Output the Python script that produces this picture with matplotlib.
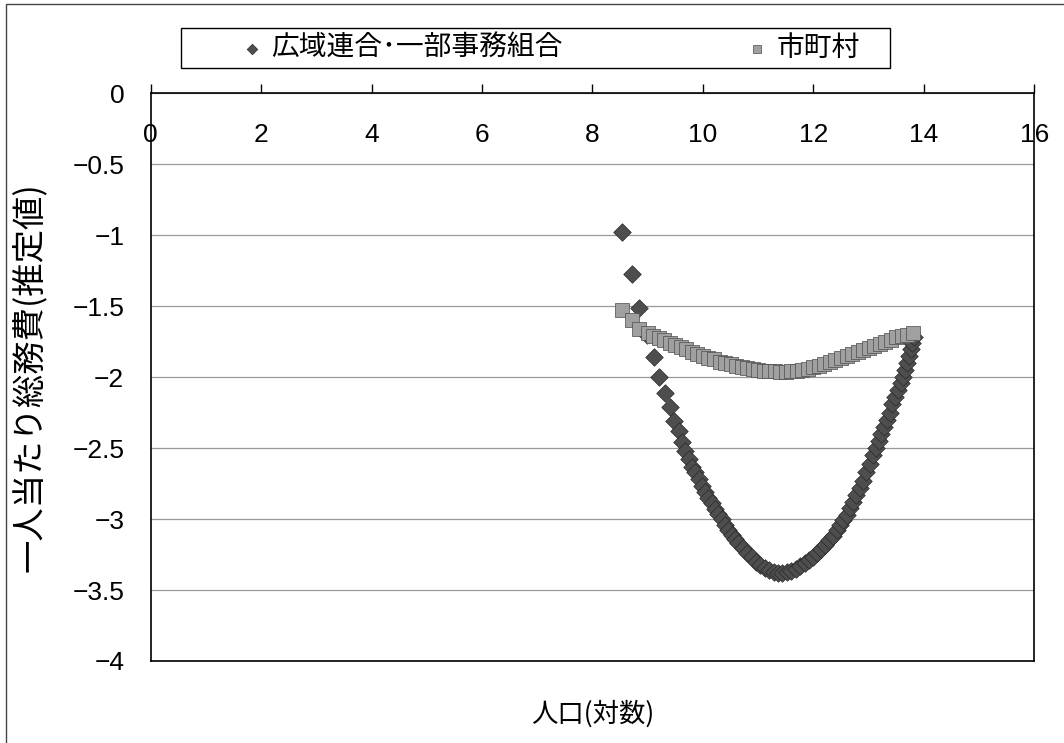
import matplotlib
matplotlib.use("Agg")
import matplotlib.pyplot as plt
from matplotlib.patches import Rectangle

plt.rcParams['font.family'] = ['Noto Sans CJK JP', 'DejaVu Sans']

# 広域連合・一部事務組合 (diamonds)
kouiki_x = [8.53, 8.71, 8.85, 8.98, 9.11, 9.21, 9.32, 9.41, 9.48, 9.56, 9.62, 9.68,
            9.74, 9.80, 9.86, 9.92, 9.98, 10.04, 10.10, 10.16, 10.22, 10.28, 10.34,
            10.40, 10.46, 10.52, 10.58, 10.64, 10.72, 10.80, 10.88, 10.96, 11.04,
            11.12, 11.20, 11.28, 11.36, 11.44, 11.52, 11.60, 11.68, 11.76, 11.84,
            11.92, 12.00, 12.07, 12.14, 12.21, 12.28, 12.35, 12.42, 12.48, 12.54,
            12.60, 12.66, 12.72, 12.78, 12.84, 12.90, 12.96, 13.02, 13.08, 13.13,
            13.18, 13.23, 13.28, 13.33, 13.38, 13.43, 13.48, 13.53, 13.58, 13.62,
            13.66, 13.70, 13.73, 13.76, 13.79, 13.82]
kouiki_y = [-0.977, -1.27, -1.51, -1.70, -1.86, -2.00, -2.11, -2.21, -2.31, -2.38, -2.46, -2.52,
            -2.58, -2.63, -2.67, -2.72, -2.77, -2.81, -2.85, -2.89, -2.93, -2.965, -3.00,
            -3.04, -3.075, -3.11, -3.14, -3.17, -3.205, -3.24, -3.27, -3.30, -3.325,
            -3.345, -3.36, -3.37, -3.38, -3.38, -3.375, -3.365, -3.35, -3.33, -3.31,
            -3.29, -3.265, -3.24, -3.21, -3.18, -3.15, -3.12, -3.08, -3.045, -3.01,
            -2.97, -2.925, -2.88, -2.83, -2.78, -2.73, -2.67, -2.61, -2.55, -2.50,
            -2.45, -2.40, -2.35, -2.30, -2.25, -2.19, -2.14, -2.09, -2.04, -2.00,
            -1.95, -1.90, -1.85, -1.80, -1.76, -1.72]

# 市町村 (squares)
shichoson_x = [8.53, 8.71, 8.85, 9.0, 9.1, 9.2, 9.3, 9.4, 9.5, 9.6, 9.7, 9.8, 9.9, 10.0,
               10.1, 10.2, 10.3, 10.4, 10.5, 10.6, 10.7, 10.8, 10.9, 11.0, 11.1, 11.2,
               11.3, 11.4, 11.5, 11.6, 11.7, 11.8, 11.9, 12.0, 12.1, 12.2, 12.3, 12.4,
               12.5, 12.6, 12.7, 12.8, 12.9, 13.0, 13.1, 13.2, 13.3, 13.4, 13.5, 13.6,
               13.7, 13.8]
shichoson_y = [-1.53, -1.60, -1.66, -1.69, -1.71, -1.725, -1.74, -1.76, -1.775, -1.79,
               -1.805, -1.82, -1.835, -1.85, -1.865, -1.875, -1.89, -1.90, -1.91, -1.92,
               -1.93, -1.935, -1.94, -1.95, -1.955, -1.96, -1.96, -1.965, -1.965, -1.96,
               -1.955, -1.95, -1.94, -1.93, -1.92, -1.905, -1.895, -1.88, -1.865, -1.85,
               -1.84, -1.825, -1.81, -1.795, -1.78, -1.765, -1.75, -1.735, -1.72, -1.71,
               -1.70, -1.69]

x_ticks = [0, 2, 4, 6, 8, 10, 12, 14, 16]
x_tick_labels = ['0', '2', '4', '6', '8', '10', '12', '14', '16']
y_ticks = [0, -0.5, -1, -1.5, -2, -2.5, -3, -3.5, -4]
y_tick_labels = ['0', '\u22120.5', '\u22121', '\u22121.5', '\u22122', '\u22122.5',
                 '\u22123', '\u22123.5', '\u22124']

fig = plt.figure(figsize=(10.64, 7.43), dpi=100)
ax = fig.add_axes([0.1416, 0.1104, 0.8305, 0.764])

d = ax.scatter(kouiki_x, kouiki_y, marker='D', s=80, facecolor='#4e4e4e',
               edgecolor='#2a2a2a', linewidths=0.5, zorder=3)
s = ax.scatter(shichoson_x, shichoson_y, marker='s', s=90, facecolor='#a0a0a0',
               edgecolor='#4a4a4a', linewidths=0.5, zorder=4)

ax.set_xlim(0, 16)
ax.set_ylim(-4, 0)
ax.set_xticks(x_ticks)
ax.set_xticklabels(x_tick_labels, family='Liberation Sans', fontsize=19)
ax.set_yticks(y_ticks)
ax.set_yticklabels(y_tick_labels, family='Liberation Sans', fontsize=19)
ax.tick_params(axis='x', top=True, bottom=False, labeltop=True, labelbottom=False,
               direction='out', length=6.5, width=1, pad=-45.5)
ax.tick_params(axis='y', length=0, pad=19)
ax.yaxis.grid(True, color='#999999', linewidth=0.9)
ax.set_axisbelow(True)
for sp in ax.spines.values():
    sp.set_linewidth(1.2)

ax.set_xlabel('人口(対数)', fontsize=19)
ax.xaxis.set_label_coords(0.5, -0.07)
ax.set_ylabel('一人当たり総務費(推定値)', fontsize=24)
ax.yaxis.set_label_coords(-0.118, 0.5)

fig.legend([d, s], ['広域連合\uff65一部事務組合', '市町村'], loc='center',
           bbox_to_anchor=(0.517, 0.9354), ncol=2, fontsize=20, frameon=False,
           handlelength=0.8, handletextpad=0.3, columnspacing=6.6, markerscale=0.6)
fig.add_artist(Rectangle((181 / 1064, 1 - 68 / 743), 709 / 1064, 40 / 743,
                         transform=fig.transFigure, fill=False, edgecolor='black', linewidth=1))
fig.add_artist(Rectangle((6 / 1064, -0.05), 1.1, 1.05 - 4 / 743,
                         transform=fig.transFigure, fill=False, edgecolor='#444444', linewidth=1))

plt.savefig("out.png", dpi=100)
